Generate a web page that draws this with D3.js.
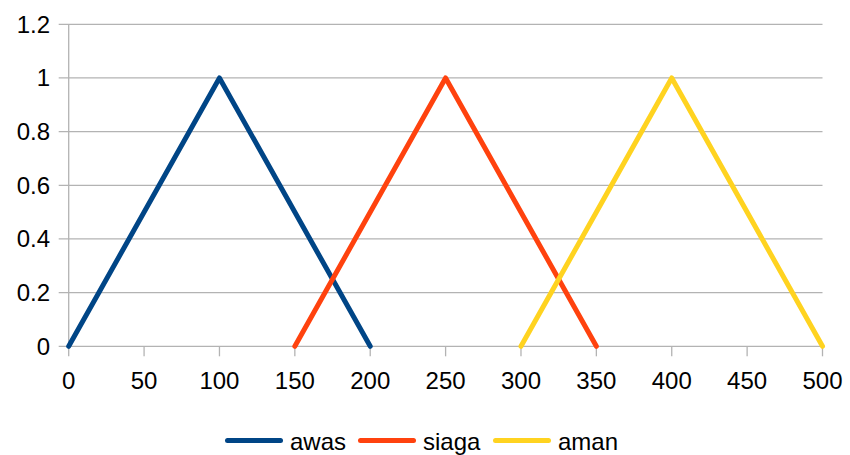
<!DOCTYPE html>
<html><head><meta charset="utf-8">
<script src="https://cdn.jsdelivr.net/npm/d3@7"></script>
<style>body{margin:0;background:#fff}svg{display:block}text{font-family:"Liberation Sans",Arial,sans-serif}</style>
</head><body><svg id="c" width="850" height="455"></svg>
<script>
const seriesNames = ["awas", "siaga", "aman"];
const seriesColors = ["#004586", "#ff420e", "#ffd320"];
const awasX = [0, 100, 200];
const awasY = [0, 1, 0];
const siagaX = [150, 250, 350];
const siagaY = [0, 1, 0];
const amanX = [300, 400, 500];
const amanY = [0, 1, 0];
const xTicks = [0, 50, 100, 150, 200, 250, 300, 350, 400, 450, 500];
const yTicks = [0, 0.2, 0.4, 0.6, 0.8, 1, 1.2];

const svg = d3.select("#c");
const x = d3.scaleLinear().domain([0, 500]).range([68.7, 822.5]);
const y = d3.scaleLinear().domain([0, 1.2]).range([346.3, 24.3]);
const grid = "#b3b3b3";

svg.append("g").selectAll("line").data(yTicks).join("line")
  .attr("x1", x(0) - 10).attr("x2", x(500))
  .attr("y1", d => y(d)).attr("y2", d => y(d))
  .attr("stroke", grid).attr("stroke-width", 1.3);
svg.append("line").attr("x1", x(0)).attr("x2", x(0)).attr("y1", y(1.2)).attr("y2", y(0))
  .attr("stroke", grid).attr("stroke-width", 1.3);
svg.append("g").selectAll("line").data(xTicks).join("line")
  .attr("x1", d => x(d)).attr("x2", d => x(d))
  .attr("y1", y(0)).attr("y2", y(0) + 10)
  .attr("stroke", grid).attr("stroke-width", 1.3);
svg.append("g").selectAll("text").data(yTicks).join("text")
  .attr("x", 50).attr("y", d => y(d) + 8.5)
  .attr("text-anchor", "end").attr("font-size", 24).attr("fill", "#000")
  .text(d => d3.format("")(d));
svg.append("g").selectAll("text").data(xTicks).join("text")
  .attr("x", d => x(d)).attr("y", 389)
  .attr("text-anchor", "middle").attr("font-size", 24).attr("fill", "#000")
  .text(d => d);

const data = [
  awasX.map((v, i) => [v, awasY[i]]),
  siagaX.map((v, i) => [v, siagaY[i]]),
  amanX.map((v, i) => [v, amanY[i]])
];
const line = d3.line().x(d => x(d[0])).y(d => y(d[1]));
svg.append("g").selectAll("path").data(data).join("path")
  .attr("d", line).attr("fill", "none")
  .attr("stroke", (d, i) => seriesColors[i]).attr("stroke-width", 5)
  .attr("stroke-linejoin", "round").attr("stroke-linecap", "round");

const legX = [225, 358, 493];
const lg = svg.append("g").selectAll("g").data(seriesNames).join("g")
  .attr("transform", (d, i) => `translate(${legX[i]},440.5)`);
lg.append("line").attr("x1", 2.5).attr("x2", 55.5).attr("y1", 0).attr("y2", 0)
  .attr("stroke", (d, i) => seriesColors[i]).attr("stroke-width", 5).attr("stroke-linecap", "round");
lg.append("text").attr("x", 65).attr("y", 9)
  .attr("font-size", 24).attr("fill", "#000").text(d => d);
</script></body></html>
